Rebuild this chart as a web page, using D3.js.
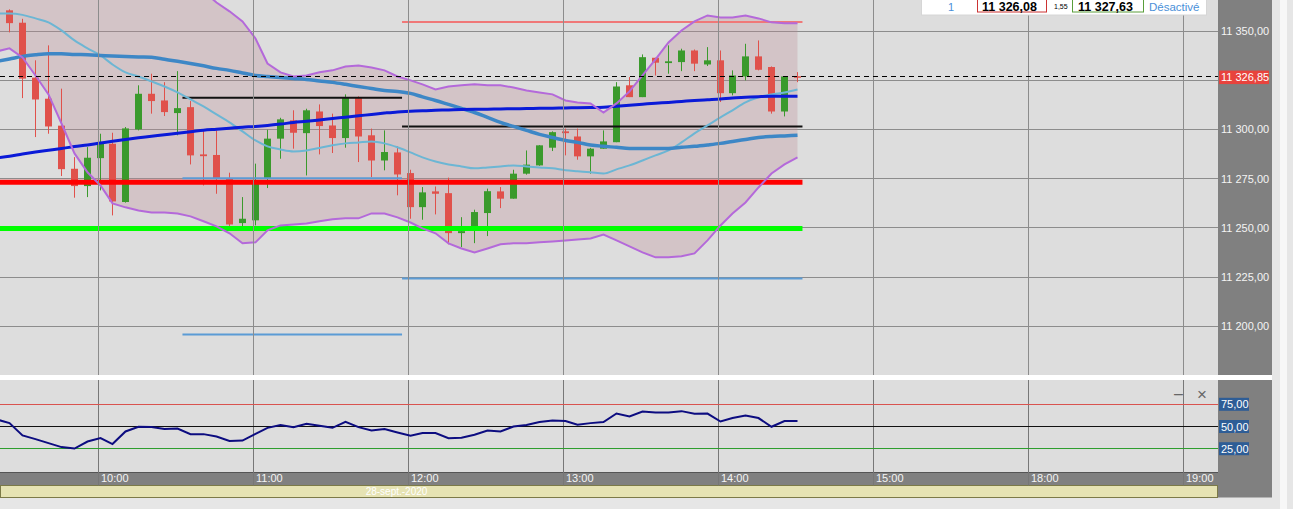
<!DOCTYPE html>
<html><head><meta charset="utf-8">
<script src="https://cdn.jsdelivr.net/npm/d3@7"></script>
<style>
html,body{margin:0;padding:0;background:#e6e6e6;overflow:hidden}
svg{display:block;font-family:"Liberation Sans",Arial,sans-serif}
</style>
</head><body>
<svg id="c" width="1293" height="509"></svg>
<script>
// ---------------- DATA ----------------
const candleTimes = ["09:25","09:30","09:35","09:40","09:45","09:50","09:55","10:00","10:05","10:10","10:15","10:20","10:25","10:30","10:35","10:40","10:45","10:50","10:55","11:00","11:05","11:10","11:15","11:20","11:25","11:30","11:35","11:40","11:45","11:50","11:55","12:00","12:05","12:10","12:15","12:20","12:25","12:30","12:35","12:40","12:45","12:50","12:55","13:00","13:05","13:10","13:15","13:20","13:25","13:30","13:35","13:40","13:45","13:50","13:55","14:00","14:05","14:10","14:15","14:20","14:25","14:30"];
const openVals = [11360.5,11354.2,11326.3,11315.6,11301.9,11280,11271.2,11285.4,11292.7,11263.1,11300,11318.1,11314.7,11308.3,11311.3,11287.3,11287,11275,11252.4,11253.8,11275,11295.3,11304.6,11298.1,11309.1,11302,11295.6,11315.9,11297,11284.2,11288.3,11277.8,11260.5,11268.5,11267.6,11247.3,11250.7,11257.5,11268.5,11264.8,11277.5,11281.7,11290.7,11299,11296.4,11286.3,11290.2,11293.5,11322.4,11316.4,11336.4,11333.7,11334.2,11340.1,11333,11335.1,11318.4,11326.9,11337.1,11331.7,11309.1,11327];
const highVals = [11361,11356.2,11335.1,11342.7,11320.7,11285.9,11291,11297.8,11298.3,11301.2,11322.4,11328.3,11324,11329.6,11314.4,11299.5,11299.5,11278,11265.6,11282.6,11299.8,11305.9,11309.7,11310.5,11312.7,11308,11317.8,11316.8,11300.4,11299.5,11291.4,11279.5,11270.7,11271,11275.5,11255.4,11259.2,11269.9,11270.7,11279.5,11289.3,11292,11299,11300.4,11300.4,11290.6,11299.5,11324,11326.6,11338.1,11336.4,11342.7,11341,11340.6,11341.8,11340.1,11330,11343.5,11345.2,11332,11326.9,11329.1];
const lowVals = [11349.3,11315.9,11296.1,11297.8,11276.3,11265.3,11265.6,11269,11256.3,11262.8,11299.5,11308,11306.8,11297,11282.2,11271.5,11267.3,11250.4,11250.4,11251.2,11270.2,11285.1,11290.2,11276.6,11287.3,11288,11290.7,11283.4,11275.8,11279.2,11266.5,11254.6,11254.1,11256.8,11241.6,11240.2,11242.2,11245.8,11260,11264.8,11277,11281.5,11289,11286.8,11284.6,11277.5,11290.2,11293.5,11316.4,11316.4,11327.4,11328.3,11329.6,11329.6,11332.2,11313.9,11317.3,11324.9,11330,11308,11306.6,11324];
const closeVals = [11354,11325.8,11315.2,11301.5,11279.8,11271.2,11285.6,11293.5,11263.4,11300.5,11318.1,11314.4,11308.8,11310.8,11286.8,11286.4,11275,11251.7,11254.6,11273.2,11295.3,11305.1,11298.3,11309.7,11301.7,11295.6,11316.4,11296.4,11284.2,11288.5,11277.1,11260.5,11268,11267.3,11247.3,11248.3,11258,11268.6,11264.8,11277.5,11282.1,11291.9,11298.6,11298.1,11286.3,11290.2,11293.9,11321.8,11316.4,11336.7,11333.9,11334.6,11340.1,11333.4,11335.1,11318.4,11327.4,11337.1,11330.3,11309.1,11326.9,11326.85];

const indicatorTimes = ["09:20"].concat(candleTimes);
const bbUpper = [11376.7,11377.7,11379.8,11385.9,11390.9,11397.6,11402.1,11404.7,11403.7,11402.6,11397.6,11394.5,11390.9,11385.9,11380.3,11374.7,11370.1,11364.5,11360,11354.9,11346.2,11333.5,11329,11326.9,11327.4,11329,11330,11332,11332.5,11331.5,11330,11326.9,11324.9,11322.9,11320.3,11321.8,11322.4,11322.9,11322.4,11322.4,11321.3,11319.8,11318.8,11317.8,11314.7,11313.7,11313.2,11308.6,11313.2,11319.3,11327.4,11335.6,11344.2,11350.3,11354.9,11357.9,11356.9,11356.9,11357.9,11356.4,11354.4,11353.9,11353.9];
const bbMiddle = [11358.9,11358.9,11358.2,11356.4,11354.4,11350.3,11345.2,11341.2,11337.6,11333,11329,11326.9,11324.4,11321.8,11318.8,11315.2,11311.7,11307.6,11303.6,11299,11294.4,11291.4,11289.8,11288.8,11289.3,11290.6,11291.9,11292.9,11293.4,11293.9,11292.9,11290.9,11288.3,11285.8,11283.7,11282.2,11281.2,11280.2,11280.7,11281.2,11281.7,11281.2,11280.7,11280.2,11279.2,11278.7,11278.2,11277.6,11279.7,11281.7,11284.2,11286.8,11289.3,11293.4,11298,11302,11306.1,11309.7,11313.7,11316.3,11317.8,11318.8,11320.3];
const bbLower = [11339.6,11341.2,11336.6,11327.4,11317.8,11303,11287.8,11278.2,11271.5,11262.4,11260.4,11258.8,11257.8,11257.8,11257.3,11255.8,11253.3,11250.7,11247.2,11242.1,11242.6,11248.7,11251.2,11251.7,11252.2,11253.3,11254.3,11254.8,11254.8,11257.3,11257.3,11255.3,11252.7,11249.7,11247.2,11242.1,11239.5,11237.5,11239.5,11241.6,11242.1,11242.1,11242.6,11243.1,11243.6,11244.1,11244.6,11246.6,11243.6,11240.6,11237.5,11235,11235,11235.5,11237,11243.6,11251.2,11257.3,11262.9,11270.5,11277.6,11282.2,11285.8];
const maBlue = [11285.5,11286.4,11287.5,11288.5,11289.4,11290.3,11291.3,11292.1,11293.1,11294,11294.9,11295.7,11296.5,11297.3,11298.1,11298.8,11299.6,11300.1,11300.6,11301.1,11301.5,11302,11302.7,11303.5,11304.1,11304.8,11305.5,11306.2,11306.9,11307.6,11308.3,11308.9,11309.2,11309.5,11309.7,11309.9,11310.1,11310.2,11310.3,11310.4,11310.5,11310.6,11310.7,11310.8,11310.9,11311,11311.1,11311.3,11311.8,11312.3,11312.8,11313.3,11313.7,11314.2,11314.7,11315.1,11315.5,11316,11316.3,11316.6,11316.8,11316.8,11316.9];
const maSteel = [11334.6,11335.8,11337.1,11337.9,11338.4,11338.4,11338.1,11337.9,11337.6,11337.3,11337.1,11336.8,11336.6,11335.6,11334.6,11333.5,11332.3,11331,11330,11328.7,11327.4,11326.9,11326.4,11325.9,11325.4,11324.6,11323.9,11322.9,11321.8,11320.8,11319.8,11319.3,11318.3,11316.5,11314.7,11312.7,11310.7,11308.6,11306.1,11303.6,11301.5,11299.5,11297.5,11295.9,11294.4,11293.4,11292.1,11291.4,11290.9,11290.3,11290.3,11290.3,11290.3,11290.9,11291.4,11292.1,11292.9,11293.9,11294.9,11295.9,11296.4,11296.7,11297];
const rsiVals = [58.1,53.8,39.9,35.8,31.3,26.8,25.2,33.1,36.9,30.2,44.4,49.7,49.3,47.1,47.7,41.4,41.4,38.7,33.6,34.2,41.8,48.5,51.6,49.3,53,50.8,48.5,55.3,49.3,45.5,47.1,43.2,39.5,42.6,42.6,36.9,37.3,40.7,45.5,44.4,50,51.6,55,56.8,56.1,51.9,53.8,55,64.6,61.3,66.9,65.8,65.8,67.3,64.3,64.6,55.6,59.5,62.4,59.5,49.7,56.1,56.1];

// horizontal levels
const levelPrices = [11273.2, 11249.6, 11316.1, 11275.2, 11195.8, 11301.5, 11224.3, 11354.6];
const levelStart  = ["09:00","09:00","10:32:30","10:32:30","10:32:30","11:57:30","11:57:30","11:57:30"];
const levelEnd    = ["14:32:30","14:32:30","11:57:30","11:57:30","11:57:30","14:32:30","14:32:30","14:32:30"];

const priceTicks = [11200,11225,11250,11275,11300,11325,11350];
const timeTickLabels = ["10:00","11:00","12:00","13:00","14:00","15:00","18:00","19:00"];
const rsiTicks = [25,50,75];
const lastPrice = 11326.85;
const bidPrice = 11326.08, askPrice = 11327.63, spread = 1.55;
const dateLabel = "28-sept.-2020";

// ---------------- STYLE / LAYOUT ----------------
const plotR = 1218, axisR = 1272, mainB = 375, rsiT = 380, rsiB = 472, timeB = 485.5, dateB = 497.5;
const levelStyle = [
  {c:"#ff0000", w:5}, {c:"#00ff00", w:5}, {c:"#111", w:2}, {c:"#5b9bd5", w:2},
  {c:"#5b9bd5", w:2}, {c:"#111", w:2}, {c:"#5b9bd5", w:2}, {c:"#f07878", w:2}
];

const fr = d3.formatLocale({decimal:",", thousands:" ", grouping:[3], currency:["","€"]});
const fmt = fr.format(",.2f");
const toMin = s => { const p = s.split(":").map(Number); return p[0]*60 + p[1] + (p[2]||0)/60; };

const tickMins = timeTickLabels.map(toMin);
const x = d3.scaleLinear().domain([600, 900, 1080, 1140]).range([98.5, 873.5, 1028.5, 1183.5]);
const cx = t => Math.round(x(toMin(t)) + 1) + 0.5;
const y = d3.scaleLinear().domain([11200, 11350]).range([326.2, 31]);
const yr = d3.scaleLinear().domain([25, 75]).range([448.7, 404.3]);

const svg = d3.select("#c");
const defs = svg.append("defs");
defs.append("clipPath").attr("id","clipMain").append("rect").attr("x",0).attr("y",0).attr("width",plotR).attr("height",mainB);
defs.append("clipPath").attr("id","clipRsi").append("rect").attr("x",0).attr("y",rsiT).attr("width",plotR).attr("height",rsiB-rsiT);

// backgrounds
svg.append("rect").attr("x",0).attr("y",0).attr("width",1293).attr("height",509).attr("fill","#e6e6e6");
svg.append("rect").attr("x",0).attr("y",0).attr("width",plotR).attr("height",mainB).attr("fill","#dddddd");
svg.append("rect").attr("x",plotR).attr("y",0).attr("width",axisR-plotR).attr("height",dateB).attr("fill","#808080");
svg.append("rect").attr("x",1280).attr("y",0).attr("width",7).attr("height",509).attr("fill","#f7f7f7");
svg.append("rect").attr("x",0).attr("y",mainB).attr("width",axisR).attr("height",rsiT-mainB).attr("fill","#ffffff");
svg.append("rect").attr("x",0).attr("y",rsiT).attr("width",plotR).attr("height",rsiB-rsiT).attr("fill","#dddddd");
svg.append("rect").attr("x",0).attr("y",rsiB).attr("width",plotR).attr("height",timeB-rsiB).attr("fill","#808080");
svg.append("line").attr("x1",0).attr("x2",plotR).attr("y1",rsiB+0.5).attr("y2",rsiB+0.5).attr("stroke","#555");
svg.append("rect").attr("x",0.5).attr("y",timeB).attr("width",plotR-1).attr("height",dateB-timeB).attr("fill","#e6e3b3").attr("stroke","#7c7a48");

// grids
const main = svg.append("g").attr("clip-path","url(#clipMain)");
main.selectAll(".hg").data(priceTicks).join("line")
  .attr("x1",0).attr("x2",plotR)
  .attr("y1",d=>Math.floor(y(d))+0.5).attr("y2",d=>Math.floor(y(d))+0.5)
  .attr("stroke","#8c8c8c").attr("stroke-width",1);
svg.selectAll(".vg").data(tickMins).join("line")
  .attr("x1",d=>Math.floor(x(d))+0.5).attr("x2",d=>Math.floor(x(d))+0.5)
  .attr("y1",0).attr("y2",mainB).attr("stroke","#8c8c8c");
svg.selectAll(".vg2").data(tickMins).join("line")
  .attr("x1",d=>Math.floor(x(d))+0.5).attr("x2",d=>Math.floor(x(d))+0.5)
  .attr("y1",rsiT).attr("y2",timeB).attr("stroke","#777");

// Bollinger band fill
const ind = indicatorTimes.map((t,i)=>({t, u:bbUpper[i], m:bbMiddle[i], l:bbLower[i], b:maBlue[i], s:maSteel[i], r:rsiVals[i]}));
main.append("path").datum(ind)
  .attr("d", d3.area().x(d=>cx(d.t)).y0(d=>y(d.l)).y1(d=>y(d.u)))
  .attr("fill","rgba(190,140,148,0.30)");

// candles
const candles = candleTimes.map((t,i)=>({t, o:openVals[i], h:highVals[i], l:lowVals[i], c:closeVals[i]}));
const cg = main.append("g");
const col = d => d.c >= d.o ? "#3a9a2c" : "#e0514b";
cg.selectAll(".wick").data(candles).join("line")
  .attr("x1",d=>cx(d.t)).attr("x2",d=>cx(d.t))
  .attr("y1",d=>y(d.h)).attr("y2",d=>y(d.l))
  .attr("stroke",col).attr("stroke-width",1);
cg.selectAll(".body").data(candles).join("rect")
  .attr("x",d=>cx(d.t)-3.5).attr("width",7)
  .attr("y",d=>y(Math.max(d.o,d.c)))
  .attr("height",d=>Math.max(1.5, Math.abs(y(d.o)-y(d.c))))
  .attr("fill",col);

// horizontal levels
const levels = levelPrices.map((p,i)=>({p, a:levelStart[i], b:levelEnd[i], st:levelStyle[i]}));
main.selectAll(".lvl").data(levels).join("line")
  .attr("x1",d=>Math.max(0, x(toMin(d.a)))).attr("x2",d=>x(toMin(d.b)))
  .attr("y1",d=>y(d.p)).attr("y2",d=>y(d.p))
  .attr("stroke",d=>d.st.c).attr("stroke-width",d=>d.st.w);

// indicator lines
const lineOf = key => d3.line().x(d=>cx(d.t)).y(d=>y(d[key]));
main.append("path").datum(ind).attr("d",lineOf("m").curve(d3.curveMonotoneX)).attr("fill","none").attr("stroke","#6cb6d4").attr("stroke-width",2);
main.append("path").datum(ind).attr("d",lineOf("s").curve(d3.curveMonotoneX)).attr("fill","none").attr("stroke","#3d87c6").attr("stroke-width",3.5);
main.append("path").datum(ind).attr("d",lineOf("b").curve(d3.curveMonotoneX)).attr("fill","none").attr("stroke","#0a1ad8").attr("stroke-width",3);
main.append("path").datum(ind).attr("d",lineOf("u")).attr("fill","none").attr("stroke","#b469da").attr("stroke-width",2);
main.append("path").datum(ind).attr("d",lineOf("l")).attr("fill","none").attr("stroke","#b469da").attr("stroke-width",2);

// last price dashed line
svg.append("line").attr("x1",0).attr("x2",plotR)
  .attr("y1",Math.floor(y(lastPrice))+0.5).attr("y2",Math.floor(y(lastPrice))+0.5)
  .attr("stroke","#000").attr("stroke-dasharray","5,4");

// price axis (labels hidden where the last-price tag covers them)
const shownTicks = priceTicks.filter(p => Math.abs(y(p) - y(lastPrice)) > 9);
const yAxis = d3.axisRight(y).tickValues(shownTicks).tickSize(0).tickPadding(3).tickFormat(fmt);
const ya = svg.append("g").attr("transform",`translate(${plotR},0)`).call(yAxis);
ya.select(".domain").remove();
ya.selectAll("text").attr("fill","#f4f4f4").attr("font-size",11).attr("font-family","Liberation Sans, Arial, sans-serif");

// last price label
svg.append("rect").attr("x",plotR+1).attr("y",y(lastPrice)-6).attr("width",50).attr("height",13.5).attr("fill","#e8433d");
svg.append("text").attr("x",plotR+3).attr("y",y(lastPrice)+4.5).attr("fill","#fff").attr("font-size",11).text(fmt(lastPrice));

// RSI panel
const rg = svg.append("g").attr("clip-path","url(#clipRsi)");
const rsiLineCol = {75:"#d9534f", 50:"#111", 25:"#2e9e2e"};
rg.selectAll(".rl").data(rsiTicks).join("line")
  .attr("x1",0).attr("x2",plotR)
  .attr("y1",d=>Math.floor(yr(d))+0.5).attr("y2",d=>Math.floor(yr(d))+0.5)
  .attr("stroke",d=>rsiLineCol[d]).attr("stroke-width",1);
rg.append("path").datum(ind).attr("d",d3.line().x(d=>cx(d.t)).y(d=>yr(d.r)))
  .attr("fill","none").attr("stroke","#0c0c80").attr("stroke-width",2);
const rAxis = d3.axisRight(yr).tickValues(rsiTicks).tickSize(0).tickPadding(3).tickFormat(fr.format(",.2f"));
const ra = svg.append("g").attr("transform",`translate(${plotR},0)`);
ra.selectAll("rect").data(rsiTicks).join("rect")
  .attr("x",1).attr("y",d=>yr(d)-6.5).attr("width",30).attr("height",13).attr("fill","#2e5d96");
ra.call(rAxis);
ra.select(".domain").remove();
ra.selectAll("text").attr("fill","#fff").attr("font-size",11).attr("font-family","Liberation Sans, Arial, sans-serif");
svg.append("text").attr("x",1174).attr("y",399).attr("fill","#666").attr("font-size",16).text("–");
svg.append("text").attr("x",1197).attr("y",400).attr("fill","#666").attr("font-size",17).text("×");

// time axis
const xAxis = d3.axisBottom(x).tickValues(tickMins).tickSize(0).tickFormat((d,i)=>timeTickLabels[i]);
const xa = svg.append("g").attr("transform",`translate(0,${rsiB})`).call(xAxis);
xa.select(".domain").remove();
xa.selectAll("text").attr("text-anchor","start").attr("dx",2).attr("y",2.5).attr("dy","0.71em")
  .attr("fill","#f4f4f4").attr("font-size",11).attr("font-family","Liberation Sans, Arial, sans-serif");
svg.append("text").attr("x",x(toMin("12:00"))-12).attr("y",495).attr("text-anchor","middle")
  .attr("fill","#fff").attr("font-size",10).text(dateLabel);

// header box (trading panel, top right)
const hb = svg.append("g");
hb.append("rect").attr("x",921.5).attr("y",-2).attr("width",285).attr("height",17).attr("fill","#fff").attr("stroke","#d6d6d6");
hb.append("text").attr("x",948).attr("y",11).attr("fill","#4a90d9").attr("font-size",11).text("1");
hb.append("rect").attr("x",977.5).attr("y",-2).attr("width",69).attr("height",14).attr("fill","#fff").attr("stroke","#cc3333");
hb.append("text").attr("x",982).attr("y",10.5).attr("fill","#000").attr("font-size",12.5).attr("font-weight","bold").text(fmt(bidPrice));
hb.append("text").attr("x",1054).attr("y",9).attr("fill","#000").attr("font-size",7).text(fr.format(",.2f")(spread));
hb.append("rect").attr("x",1072.5).attr("y",-2).attr("width",71).attr("height",14).attr("fill","#fff").attr("stroke","#5a9e3a");
hb.append("text").attr("x",1078).attr("y",10.5).attr("fill","#000").attr("font-size",12.5).attr("font-weight","bold").text(fmt(askPrice));
hb.append("text").attr("x",1149).attr("y",10.5).attr("fill","#4a90d9").attr("font-size",11.5).text("Désactivé");
</script>
</body></html>
